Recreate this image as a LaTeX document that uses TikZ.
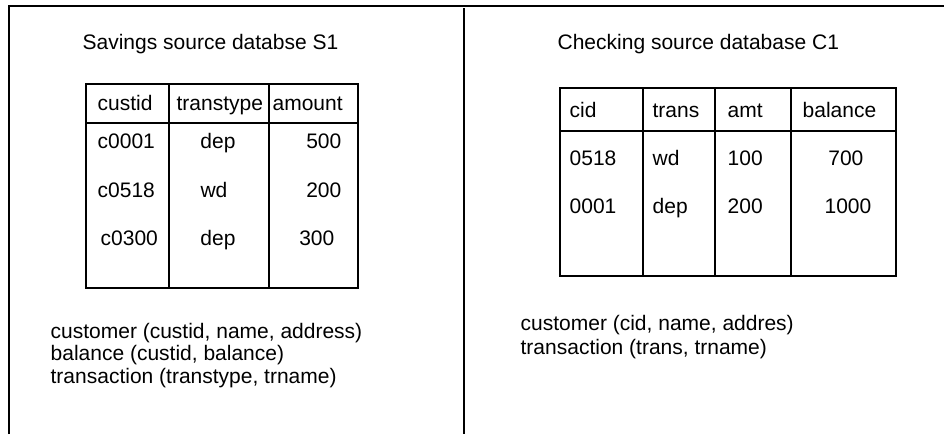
\documentclass[tikz,border=0pt]{standalone}
\usepackage{fontspec}
\setmainfont{Liberation Sans}
\begin{document}
\begin{tikzpicture}[x=1pt,y=-1pt,line width=1.3pt,
  txt/.style={inner sep=0pt,font=\fontsize{21}{25}\selectfont},
  lt/.style={txt,anchor=base west},
  ct/.style={txt,anchor=base},
  rt/.style={txt,anchor=base east}]
\useasboundingbox (0,0) rectangle (944,434);
% frame
\draw (9,434) -- (9,6) -- (944,6);
\draw (464,8) -- (464,434);
% titles
\node[lt] (t1) at (82,49) {Savings source databse S1};
\node[lt] (t2) at (557,49) {Checking source database C1};
% left table
\draw (86,84) rectangle (358,288);
\draw (86,123) -- (358,123);
\draw (169,84) -- (169,288);
\draw (269,84) -- (269,288);
\node[lt] (h11) at (97,110) {custid};
\node[lt] (h12) at (176,110) {transtype};
\node[lt] (h13) at (272,110) {amount};
\node[lt] (a11) at (97,148) {c0001};
\node[ct] (a12) at (218,148) {dep};
\node[rt] (a13) at (342,148) {500};
\node[lt] (a21) at (97,197) {c0518};
\node[ct] (a22) at (214,197) {wd};
\node[rt] (a23) at (342,197) {200};
\node[lt] (a31) at (100,245) {c0300};
\node[ct] (a32) at (218,245) {dep};
\node[rt] (a33) at (335,245) {300};
% right table
\draw (560,88) rectangle (896,276);
\draw (560,131) -- (896,131);
\draw (643,88) -- (643,276);
\draw (715,88) -- (715,276);
\draw (791,88) -- (791,276);
\node[lt] (h21) at (569,117) {cid};
\node[lt] (h22) at (652,117) {trans};
\node[lt] (h23) at (727,117) {amt};
\node[lt] (h24) at (802,117) {balance};
\node[lt] (b11) at (569,165) {0518};
\node[lt] (b12) at (652,165) {wd};
\node[lt] (b13) at (727,165) {100};
\node[rt] (b14) at (864,165) {700};
\node[lt] (b21) at (569,213) {0001};
\node[lt] (b22) at (652,213) {dep};
\node[lt] (b23) at (727,213) {200};
\node[rt] (b24) at (872,213) {1000};
% schemas
\node[lt] (s11) at (50,338) {customer (custid, name, address)};
\node[lt] (s12) at (50,360) {balance (custid, balance)};
\node[lt] (s13) at (50,383) {transaction (transtype, trname)};
\node[lt] (s21) at (520,330) {customer (cid, name, addres)};
\node[lt] (s22) at (520,354) {transaction (trans, trname)};
\end{tikzpicture}
\end{document}
